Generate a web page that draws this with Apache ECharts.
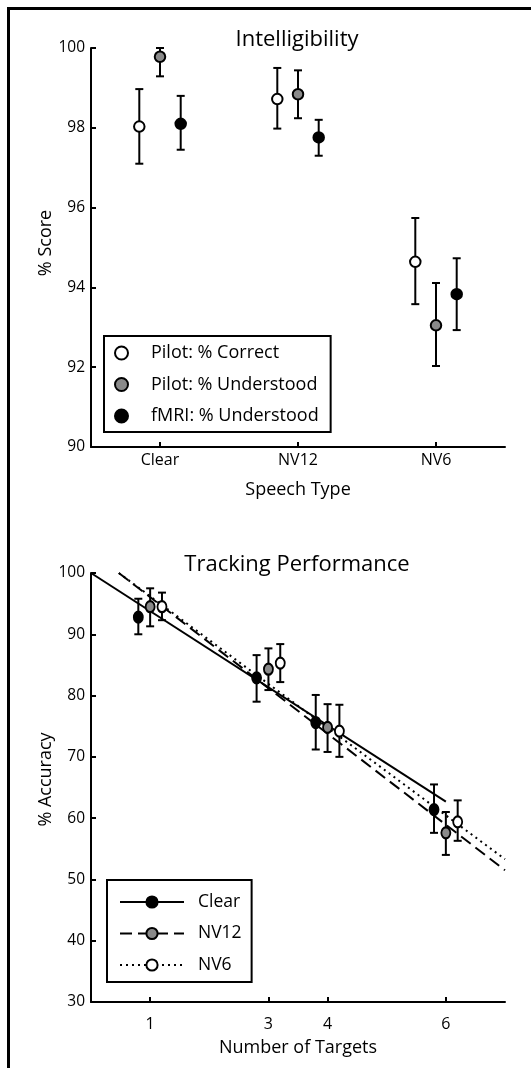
<!DOCTYPE html>
<html><head><meta charset="utf-8">
<script src="https://cdn.jsdelivr.net/npm/echarts@6/dist/echarts.min.js"></script>
<style>html,body{margin:0;padding:0;background:#fff}#c{width:531px;height:1068px}</style>
</head><body><div id="c"></div>
<script>
// ---------- Intelligibility (top) ----------
const speechTypes = ['Clear', 'NV12', 'NV6'];
const pilotCorrect = [98.03, 98.72, 94.64];
const pilotCorrectLow = [97.10, 97.98, 93.58];
const pilotCorrectHigh = [98.97, 99.50, 95.74];
const pilotUnderstood = [99.78, 98.84, 93.05];
const pilotUnderstoodLow = [99.29, 98.24, 92.03];
const pilotUnderstoodHigh = [100.0, 99.44, 94.11];
const fmriUnderstood = [98.10, 97.76, 93.83];
const fmriUnderstoodLow = [97.45, 97.30, 92.93];
const fmriUnderstoodHigh = [98.80, 98.20, 94.73];

// ---------- Tracking Performance (bottom) ----------
const targetCounts = [1, 3, 4, 6];
const clearAcc = [92.8, 82.9, 75.6, 61.4];
const clearLow = [90.0, 79.0, 71.2, 57.6];
const clearHigh = [95.8, 86.6, 80.1, 65.5];
const nv12Acc = [94.5, 84.3, 74.8, 57.6];
const nv12Low = [91.3, 80.9, 70.8, 54.0];
const nv12High = [97.5, 87.7, 78.6, 61.0];
const nv6Acc = [94.5, 85.3, 74.2, 59.4];
const nv6Low = [92.3, 82.2, 70.0, 56.3];
const nv6High = [96.8, 88.4, 78.5, 62.9];
const clearFit = [[0, 100], [6.0, 62.7]];
const nv12Fit = [[0.47, 100], [7, 51.5]];
const nv6Fit = [[0.47, 100], [7, 53.3]];

const FONT = 'Open Sans';
const TOP_OFF = 0.15, BOT_OFF = 0.2;

function errRender(params, api) {
  const x = api.value(0);
  const lo = api.coord([x, api.value(1)]);
  const hi = api.coord([x, api.value(2)]);
  const w = 4;
  const st = { stroke: '#000', lineWidth: 2 };
  return { type: 'group', children: [
    { type: 'line', shape: { x1: lo[0], y1: lo[1], x2: hi[0], y2: hi[1] }, style: st },
    { type: 'line', shape: { x1: lo[0] - w, y1: lo[1], x2: lo[0] + w, y2: lo[1] }, style: st },
    { type: 'line', shape: { x1: hi[0] - w, y1: hi[1], x2: hi[0] + w, y2: hi[1] }, style: st }
  ]};
}
function pts(xs, ys, off) { return ys.map((v, i) => [xs[i] + off, v]); }
function errs(xs, lo, hi, off) { return lo.map((v, i) => [xs[i] + off, v, hi[i]]); }
const catX = speechTypes.map((c, i) => i + 1);

function errSeries(xi, yi, data) {
  return { type: 'custom', xAxisIndex: xi, yAxisIndex: yi, renderItem: errRender, data: data, z: 2, silent: true,
    encode: { x: 0, y: [1, 2] } };
}
function scat(name, xi, data, fill, size) {
  return { name: name, type: 'scatter', xAxisIndex: xi, yAxisIndex: xi, data: data, symbol: 'circle', symbolSize: size, z: 3,
    itemStyle: { color: fill, borderColor: '#000', borderWidth: 2, opacity: 1 } };
}
function fit(name, data, dash, fill) {
  return { name: name, type: 'line', xAxisIndex: 1, yAxisIndex: 1, data: data, showSymbol: false, symbol: 'circle',
    z: 1, silent: true, itemStyle: { color: fill, borderColor: '#000', borderWidth: 2 },
    lineStyle: { color: '#000', width: 2, type: dash } };
}

const axisLine = { show: true, lineStyle: { color: '#000', width: 2 } };
const axisTick = { show: true, inside: true, length: 5, lineStyle: { color: '#000', width: 2 } };

const chart = echarts.init(document.getElementById('c'));
chart.setOption({
  animation: false,
  textStyle: { fontFamily: FONT, color: '#000' },
  title: [
    { text: 'Intelligibility', left: 297, top: 29, textAlign: 'center', padding: 0,
      textStyle: { fontFamily: FONT, fontSize: 22, fontWeight: 'normal', color: '#000' } },
    { text: 'Tracking Performance', left: 297, top: 554, textAlign: 'center', padding: 0,
      textStyle: { fontFamily: FONT, fontSize: 22, fontWeight: 'normal', color: '#000' } }
  ],
  graphic: [{ type: 'rect', shape: { x: 8.5, y: 8.5, width: 700, height: 1200 },
    style: { fill: 'none', stroke: '#000', lineWidth: 3 }, silent: true }],
  grid: [
    { left: 91, right: 26, top: 48, bottom: 621 },
    { left: 91, right: 26, top: 573, bottom: 66 }
  ],
  legend: [
    { data: ['Pilot: % Correct', 'Pilot: % Understood', 'fMRI: % Understood'], orient: 'vertical',
      left: 104, top: 336, itemWidth: 13, itemHeight: 13, itemGap: 13.5, padding: [8, 12, 7, 10],
      borderColor: '#000', borderWidth: 2, selectedMode: false,
      textStyle: { fontFamily: FONT, fontSize: 18, color: '#000', padding: [0, 0, 0, 18] } },
    { data: ['Clear', 'NV12', 'NV6'], orient: 'vertical',
      left: 107, top: 880, itemWidth: 64, itemHeight: 14, itemGap: 13.5, padding: [13, 10, 8, 12],
      borderColor: '#000', borderWidth: 2, selectedMode: false,
      textStyle: { fontFamily: FONT, fontSize: 17.5, color: '#000', padding: [0, 0, 0, 9] } }
  ],
  xAxis: [
    { gridIndex: 0, type: 'value', min: 0.5, max: 3.5, axisLine: axisLine,
      axisTick: Object.assign({ customValues: catX }, axisTick), splitLine: { show: false },
      axisLabel: { customValues: catX, fontSize: 16, color: '#000', margin: 5,
        formatter: v => speechTypes[Math.round(v) - 1] },
      name: 'Speech Type', nameLocation: 'middle', nameGap: 34,
      nameTextStyle: { fontSize: 18, color: '#000' } },
    { gridIndex: 1, type: 'value', min: 0, max: 7, axisLine: axisLine,
      axisTick: Object.assign({ customValues: targetCounts }, axisTick), splitLine: { show: false },
      axisLabel: { customValues: targetCounts, fontSize: 16, color: '#000', margin: 14 },
      name: 'Number of Targets', nameLocation: 'middle', nameGap: 37,
      nameTextStyle: { fontSize: 18, color: '#000' } }
  ],
  yAxis: [
    { gridIndex: 0, type: 'value', min: 90, max: 100, interval: 2, axisLine: axisLine, axisTick: axisTick,
      splitLine: { show: false }, axisLabel: { fontSize: 15.5, color: '#000', margin: 6 },
      name: '% Score', nameLocation: 'middle', nameGap: 36, nameMoveOverlap: false,
      nameTextStyle: { fontSize: 18, color: '#000', padding: [0, 0, 0, 9] } },
    { gridIndex: 1, type: 'value', min: 30, max: 100, interval: 10, axisLine: axisLine, axisTick: axisTick,
      splitLine: { show: false }, axisLabel: { fontSize: 15.5, color: '#000', margin: 6 },
      name: '% Accuracy', nameLocation: 'middle', nameGap: 36, nameMoveOverlap: false,
      nameTextStyle: { fontSize: 18, color: '#000', padding: [0, 0, 0, 16] } }
  ],
  series: [
    errSeries(0, 0, errs(catX, pilotCorrectLow, pilotCorrectHigh, -TOP_OFF)),
    errSeries(0, 0, errs(catX, pilotUnderstoodLow, pilotUnderstoodHigh, 0)),
    errSeries(0, 0, errs(catX, fmriUnderstoodLow, fmriUnderstoodHigh, TOP_OFF)),
    scat('Pilot: % Correct', 0, pts(catX, pilotCorrect, -TOP_OFF), '#fff', 10.5),
    scat('Pilot: % Understood', 0, pts(catX, pilotUnderstood, 0), '#8a8a8a', 10.5),
    scat('fMRI: % Understood', 0, pts(catX, fmriUnderstood, TOP_OFF), '#000', 10.5),

    fit('Clear', clearFit, 'solid', '#000'),
    fit('NV12', nv12Fit, [12, 6], '#8a8a8a'),
    fit('NV6', nv6Fit, [2, 4], '#fff'),
    errSeries(1, 1, errs(targetCounts, clearLow, clearHigh, -BOT_OFF)),
    errSeries(1, 1, errs(targetCounts, nv12Low, nv12High, 0)),
    errSeries(1, 1, errs(targetCounts, nv6Low, nv6High, BOT_OFF)),
    scat('Clear points', 1, pts(targetCounts, clearAcc, -BOT_OFF), '#000', [9, 11]),
    scat('NV12 points', 1, pts(targetCounts, nv12Acc, 0), '#8a8a8a', [9, 11]),
    scat('NV6 points', 1, pts(targetCounts, nv6Acc, BOT_OFF), '#fff', [9, 11])
  ]
});
</script></body></html>
